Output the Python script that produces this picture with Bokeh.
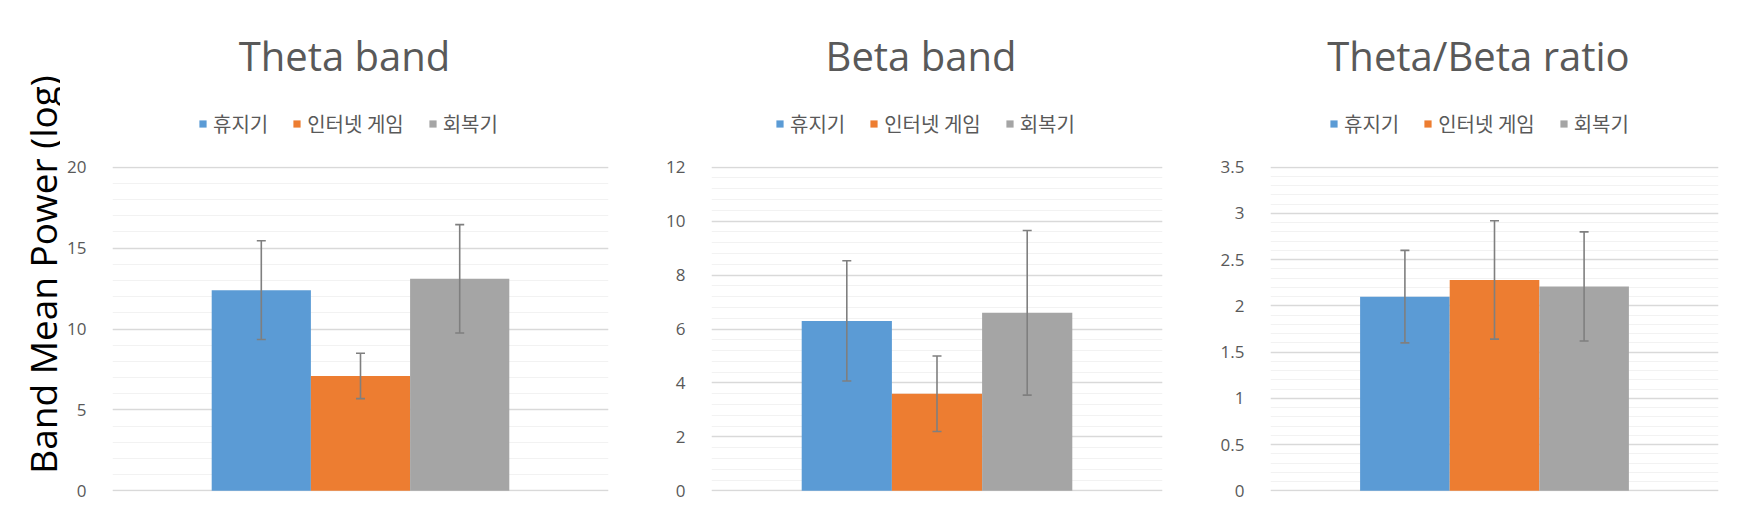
import math
from bokeh.plotting import figure
from bokeh.layouts import row, column
from bokeh.models import (ColumnDataSource, FactorRange, Range1d, Whisker, TeeHead,
                          Legend, LegendItem, Label, SingleIntervalTicker,
                          CustomJSTickFormatter)
from bokeh.transform import dodge
from bokeh.embed import file_html
from bokeh.resources import INLINE

# ---------------- data ----------------
series_names = ["휴지기", "인터넷 게임", "회복기"]
series_colors = ["#5B9BD5", "#ED7D31", "#A5A5A5"]

panel_titles = ["Theta band", "Beta band", "Theta/Beta ratio"]
y_axis_title = "Band Mean Power (log)"

theta_mean = [12.4, 7.1, 13.1]
theta_err = [3.05, 1.4, 3.35]

beta_mean = [6.3, 3.6, 6.6]
beta_err = [2.23, 1.4, 3.05]

ratio_mean = [2.1, 2.28, 2.21]
ratio_err = [0.5, 0.64, 0.59]

theta_ticks = [0, 5, 10, 15, 20]
theta_tick_labels = ["0", "5", "10", "15", "20"]
beta_ticks = [0, 2, 4, 6, 8, 10, 12]
beta_tick_labels = ["0", "2", "4", "6", "8", "10", "12"]
ratio_ticks = [0, 0.5, 1, 1.5, 2, 2.5, 3, 3.5]
ratio_tick_labels = ["0", "0.5", "1", "1.5", "2", "2.5", "3", "3.5"]

# ---------------- styling ----------------
TEXT_GREY = "#595959"
GRID_MAJOR = "#d9d9d9"
GRID_MINOR = "#f2f2f2"
ERR_COLOR = "#7f7f7f"
HEADER_H = 150
BODY_H = 355
BORDER_TOP = 16
FRAME_H = 325
TOTAL_H = HEADER_H + BODY_H
TITLE_Y = 95          # screen px above the header frame's bottom edge


def plain(p):
    p.min_border = 0
    p.outline_line_color = None
    p.background_fill_color = "white"
    p.border_fill_color = "white"
    return p


def make_header(title, x0, border_left, frame_w, border_right, legend_dx):
    fl = x0 + border_left           # page x of the frame's left edge
    h = figure(width=border_left + frame_w + border_right, height=HEADER_H,
               x_range=Range1d(fl, fl + frame_w), y_range=Range1d(0, HEADER_H),
               title=None, output_backend="svg", toolbar_location=None,
               x_axis_location=None, y_axis_location=None)
    plain(h)
    h.grid.visible = False
    h.min_border_left = border_left
    h.min_border_right = border_right
    h.add_layout(Label(x=fl + frame_w / 2 - 16, y=TITLE_Y,
                       y_units="screen", text=title, text_align="center",
                       text_baseline="alphabetic", text_font="Open Sans",
                       text_font_size="40px", text_color=TEXT_GREY))
    src = ColumnDataSource(dict(v=[0.0]))
    items = []
    for name, color in zip(series_names, series_colors):
        proxy = h.vbar(x="v", top="v", bottom="v", width=0, source=src,
                       fill_color=color, line_color=None)
        items.append(LegendItem(label=name, renderers=[proxy]))
    legend = Legend(items=items, orientation="horizontal",
                    location=(legend_dx, 12),
                    glyph_width=9, glyph_height=9, label_standoff=6, spacing=24,
                    padding=0, margin=0, border_line_color=None,
                    background_fill_alpha=0,
                    label_text_font="Noto Sans CJK KR", label_text_font_size="20px",
                    label_text_color=TEXT_GREY)
    h.add_layout(legend, "center")
    return h


def make_body(means, errs, ticks, tick_labels, border_left, frame_w, border_right):
    cat = ["g"]
    pad = (ticks[-1] - ticks[0]) * 0.002
    p = figure(width=border_left + frame_w + border_right, height=BODY_H,
               x_range=FactorRange(*cat),
               y_range=Range1d(ticks[0] - pad, ticks[-1] + pad), title=None,
               output_backend="svg", toolbar_location=None)
    plain(p)
    p.min_border_left = border_left
    p.min_border_right = border_right
    p.min_border_top = BORDER_TOP
    p.min_border_bottom = BODY_H - BORDER_TOP - FRAME_H
    p.xaxis.visible = False
    p.xgrid.visible = False

    interval = ticks[1] - ticks[0]
    p.yaxis.ticker = SingleIntervalTicker(interval=interval, num_minor_ticks=5)
    p.yaxis.formatter = CustomJSTickFormatter(
        args=dict(tvals=ticks, tlabels=tick_labels),
        code="const i = tvals.indexOf(tick); return i >= 0 ? tlabels[i] : '';")
    p.yaxis.axis_line_color = None
    p.yaxis.major_tick_line_color = None
    p.yaxis.minor_tick_line_color = None
    p.yaxis.major_label_standoff = 20
    p.yaxis.major_label_text_font = "Open Sans"
    p.yaxis.major_label_text_font_size = "17px"
    p.yaxis.major_label_text_color = TEXT_GREY
    p.ygrid.grid_line_color = GRID_MAJOR
    p.ygrid.grid_line_width = 1.3
    p.ygrid.minor_grid_line_color = GRID_MINOR
    p.ygrid.minor_grid_line_width = 1

    n = len(series_names)
    bw = 0.2
    for i in range(n):
        off = (i - (n - 1) / 2) * bw
        src = ColumnDataSource(dict(cat=cat, mean=[means[i]],
                                    upper=[means[i] + errs[i]],
                                    lower=[means[i] - errs[i]]))
        p.vbar(x=dodge("cat", off, range=p.x_range), top="mean", width=bw,
               source=src, fill_color=series_colors[i], line_color=None)
        w = Whisker(source=src, base=dodge("cat", off, range=p.x_range),
                    upper="upper", lower="lower", line_color=ERR_COLOR, line_width=1.6,
                    upper_head=TeeHead(size=9, line_color=ERR_COLOR, line_width=1.6),
                    lower_head=TeeHead(size=9, line_color=ERR_COLOR, line_width=1.6),
                    level="annotation")
        p.add_layout(w)
    return p


def panel(title, means, errs, ticks, tick_labels, x0, border_left, frame_w,
          border_right, legend_dx):
    h = make_header(title, x0, border_left, frame_w, border_right, legend_dx)
    b = make_body(means, errs, ticks, tick_labels, border_left, frame_w, border_right)
    return column(h, b)


# y-axis title strip
YLAB_W = 60
ylab = figure(width=YLAB_W, height=TOTAL_H, x_range=Range1d(0, YLAB_W),
              y_range=Range1d(TOTAL_H, 0), title=None, output_backend="svg",
              toolbar_location=None, x_axis_location=None, y_axis_location=None)
plain(ylab)
ylab.grid.visible = False
ylab.add_layout(Label(x=42, y=274, text=y_axis_title, angle=math.pi / 2,
                      text_align="center", text_baseline="alphabetic",
                      text_font="Open Sans", text_font_size="37px",
                      text_color="#000000"))

c1 = panel(panel_titles[0], theta_mean, theta_err, theta_ticks, theta_tick_labels,
           x0=60, border_left=52, frame_w=496, border_right=20, legend_dx=86)
c2 = panel(panel_titles[1], beta_mean, beta_err, beta_ticks, beta_tick_labels,
           x0=628, border_left=83, frame_w=451, border_right=20, legend_dx=64)
c3 = panel(panel_titles[2], ratio_mean, ratio_err, ratio_ticks, ratio_tick_labels,
           x0=1182, border_left=88, frame_w=448, border_right=15, legend_dx=59)

layout = row(ylab, c1, c2, c3)
open("out.html", "w").write(file_html(layout, INLINE))
